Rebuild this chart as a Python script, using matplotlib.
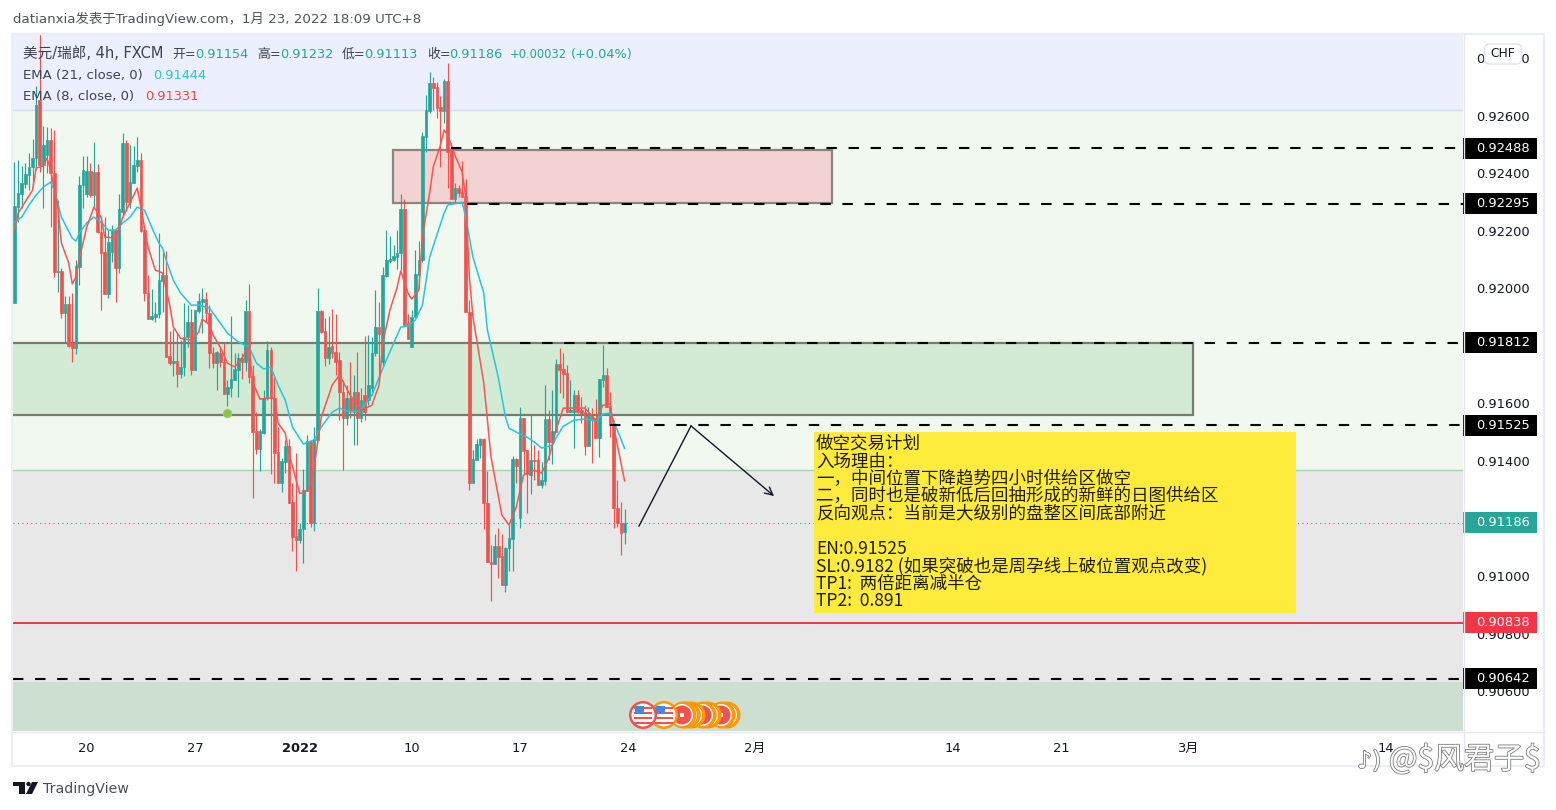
import matplotlib
matplotlib.use("Agg")
import matplotlib.pyplot as plt
import matplotlib.patheffects as pe
from matplotlib.patches import Rectangle, Circle, Polygon, FancyBboxPatch
from matplotlib.transforms import Affine2D, blended_transform_factory

plt.rcParams['font.family'] = ['DejaVu Sans', 'Noto Sans CJK SC']

opens = [0.91950, 0.92283, 0.92328, 0.92363, 0.92395, 0.92423, 0.92453, 0.92655, 0.92430, 0.92464,
         0.92516, 0.92402, 0.92057, 0.92061, 0.91915, 0.91946, 0.91810, 0.91792, 0.92075, 0.92360,
         0.92328, 0.92408, 0.92325, 0.92405, 0.92196, 0.92126, 0.91980, 0.92126, 0.92203, 0.92071,
         0.92266, 0.92506, 0.92300, 0.92367, 0.92426, 0.92447, 0.92203, 0.91984, 0.91893, 0.91900,
         0.91911, 0.92026, 0.92047, 0.91765, 0.91740, 0.91747, 0.91702, 0.91726, 0.91831, 0.91883,
         0.91716, 0.91921, 0.91953, 0.91963, 0.91914, 0.91776, 0.91740, 0.91776, 0.91744, 0.91633,
         0.91654, 0.91681, 0.91716, 0.91758, 0.91744, 0.91921, 0.91695, 0.91504, 0.91441, 0.91497,
         0.91619, 0.91786, 0.91619, 0.91431, 0.91323, 0.91396, 0.91452, 0.91257, 0.91139, 0.91125,
         0.91163, 0.91296, 0.91469, 0.91184, 0.91473, 0.91921, 0.91852, 0.91758, 0.91799, 0.91779,
         0.91751, 0.91640, 0.91549, 0.91619, 0.91570, 0.91640, 0.91549, 0.91629, 0.91612, 0.91654,
         0.91775, 0.91866, 0.91744, 0.92043, 0.92095, 0.92099, 0.92109, 0.92123, 0.92276, 0.91880,
         0.91796, 0.91900, 0.92047, 0.92099, 0.92527, 0.92617, 0.92715, 0.92701, 0.92631, 0.92617,
         0.92722, 0.92485, 0.92311, 0.92349, 0.92335, 0.92321, 0.91918, 0.91323, 0.91403, 0.91455,
         0.91476, 0.91254, 0.91048, 0.91041, 0.91104, 0.91069, 0.90969, 0.91097, 0.91128, 0.91407,
         0.91201, 0.91549, 0.91438, 0.91351, 0.91403, 0.91403, 0.91316, 0.91330, 0.91546, 0.91466,
         0.91500, 0.91737, 0.91719, 0.91706, 0.91570, 0.91570, 0.91629, 0.91577, 0.91570, 0.91452,
         0.91560, 0.91549, 0.91480, 0.91681, 0.91699, 0.91591, 0.91525, 0.91236, 0.91184, 0.91154]
highs = [0.92440, 0.92447, 0.92426, 0.92437, 0.92471, 0.92520, 0.92704, 0.92885, 0.92565, 0.92562,
         0.92558, 0.92551, 0.92307, 0.92071, 0.91973, 0.91973, 0.91984, 0.92099, 0.92391, 0.92460,
         0.92460, 0.92437, 0.92509, 0.92433, 0.92238, 0.92248, 0.92203, 0.92220, 0.92210, 0.92328,
         0.92541, 0.92516, 0.92499, 0.92495, 0.92527, 0.92471, 0.92220, 0.92047, 0.91998, 0.91953,
         0.92193, 0.92133, 0.92130, 0.91852, 0.91859, 0.91845, 0.91820, 0.91950, 0.91942, 0.91928,
         0.91925, 0.91984, 0.92001, 0.91987, 0.91942, 0.91796, 0.91782, 0.91796, 0.91810, 0.91681,
         0.91904, 0.91775, 0.91775, 0.91775, 0.91960, 0.92015, 0.91733, 0.91570, 0.91511, 0.91647,
         0.91817, 0.91796, 0.91692, 0.91518, 0.91410, 0.91473, 0.91476, 0.91323, 0.91427, 0.91184,
         0.91372, 0.91490, 0.91473, 0.91518, 0.92001, 0.91925, 0.91897, 0.91904, 0.91928, 0.91911,
         0.91779, 0.91681, 0.91664, 0.91744, 0.91699, 0.91779, 0.91654, 0.91834, 0.91838, 0.91831,
         0.91994, 0.91953, 0.92075, 0.92203, 0.92182, 0.92151, 0.92203, 0.92328, 0.92311, 0.91911,
         0.91925, 0.92133, 0.92165, 0.92544, 0.92673, 0.92753, 0.92735, 0.92718, 0.92669, 0.92728,
         0.92784, 0.92506, 0.92367, 0.92360, 0.92443, 0.92381, 0.91960, 0.91438, 0.91476, 0.91480,
         0.91480, 0.91365, 0.91108, 0.91146, 0.91167, 0.91146, 0.91101, 0.91177, 0.91417, 0.91410,
         0.91587, 0.91549, 0.91438, 0.91563, 0.91455, 0.91438, 0.91396, 0.91664, 0.91577, 0.91647,
         0.91754, 0.91793, 0.91775, 0.91733, 0.91681, 0.91647, 0.91647, 0.91622, 0.91594, 0.91587,
         0.91584, 0.91615, 0.91685, 0.91803, 0.91723, 0.91640, 0.91542, 0.91334, 0.91257, 0.91232]
lows = [0.91950, 0.92231, 0.92279, 0.92349, 0.92342, 0.92353, 0.92412, 0.92405, 0.92279, 0.92402,
        0.92214, 0.92040, 0.91987, 0.91897, 0.91810, 0.91796, 0.91744, 0.91772, 0.92012, 0.92279,
        0.92318, 0.92318, 0.92283, 0.92193, 0.91925, 0.91980, 0.91966, 0.92092, 0.91953, 0.92054,
        0.92248, 0.92269, 0.92279, 0.92367, 0.92405, 0.92196, 0.91956, 0.91893, 0.91890, 0.91883,
        0.91897, 0.91918, 0.91761, 0.91733, 0.91695, 0.91657, 0.91688, 0.91695, 0.91796, 0.91699,
        0.91716, 0.91914, 0.91845, 0.91883, 0.91723, 0.91723, 0.91647, 0.91726, 0.91633, 0.91591,
        0.91622, 0.91681, 0.91622, 0.91685, 0.91713, 0.91671, 0.91271, 0.91424, 0.91365, 0.91494,
        0.91612, 0.91354, 0.91323, 0.91323, 0.91292, 0.91358, 0.91254, 0.91087, 0.91017, 0.91115,
        0.91045, 0.91296, 0.91170, 0.91156, 0.91469, 0.91845, 0.91730, 0.91737, 0.91758, 0.91699,
        0.91542, 0.91368, 0.91525, 0.91549, 0.91455, 0.91455, 0.91535, 0.91542, 0.91594, 0.91629,
        0.91765, 0.91681, 0.91733, 0.92040, 0.92088, 0.92095, 0.92068, 0.92064, 0.91873, 0.91824,
        0.91796, 0.91900, 0.92002, 0.92092, 0.92474, 0.92610, 0.92620, 0.92593, 0.92423, 0.92575,
        0.92349, 0.92311, 0.92297, 0.92318, 0.92318, 0.91918, 0.91299, 0.91323, 0.91403, 0.91410,
        0.91163, 0.91048, 0.90913, 0.91041, 0.90993, 0.90969, 0.90944, 0.91017, 0.91017, 0.91323,
        0.91167, 0.91351, 0.91219, 0.91285, 0.91334, 0.91316, 0.91306, 0.91316, 0.91403, 0.91389,
        0.91500, 0.91636, 0.91619, 0.91570, 0.91570, 0.91445, 0.91566, 0.91532, 0.91421, 0.91452,
        0.91393, 0.91480, 0.91414, 0.91657, 0.91587, 0.91483, 0.91167, 0.91170, 0.91073, 0.91113]
closes = [0.92286, 0.92332, 0.92367, 0.92398, 0.92423, 0.92453, 0.92638, 0.92430, 0.92499, 0.92516,
          0.92402, 0.92057, 0.92061, 0.91915, 0.91946, 0.91799, 0.91792, 0.92078, 0.92360, 0.92412,
          0.92408, 0.92325, 0.92405, 0.92196, 0.92123, 0.91980, 0.92161, 0.92203, 0.92071, 0.92276,
          0.92506, 0.92300, 0.92370, 0.92430, 0.92447, 0.92200, 0.91984, 0.91893, 0.91904, 0.91911,
          0.92029, 0.92047, 0.91761, 0.91740, 0.91747, 0.91702, 0.91726, 0.91831, 0.91883, 0.91716,
          0.91925, 0.91956, 0.91963, 0.91914, 0.91776, 0.91740, 0.91779, 0.91744, 0.91633, 0.91657,
          0.91685, 0.91719, 0.91758, 0.91744, 0.91921, 0.91692, 0.91500, 0.91441, 0.91504, 0.91619,
          0.91786, 0.91619, 0.91427, 0.91323, 0.91400, 0.91452, 0.91254, 0.91135, 0.91125, 0.91163,
          0.91299, 0.91469, 0.91184, 0.91476, 0.91921, 0.91848, 0.91758, 0.91796, 0.91775, 0.91744,
          0.91640, 0.91549, 0.91619, 0.91577, 0.91640, 0.91549, 0.91612, 0.91570, 0.91664, 0.91775,
          0.91866, 0.91841, 0.92047, 0.92099, 0.92102, 0.92113, 0.92123, 0.92276, 0.91873, 0.91824,
          0.91900, 0.92050, 0.92099, 0.92530, 0.92620, 0.92715, 0.92697, 0.92628, 0.92617, 0.92722,
          0.92474, 0.92311, 0.92349, 0.92332, 0.92318, 0.91918, 0.91323, 0.91407, 0.91459, 0.91476,
          0.91254, 0.91048, 0.91041, 0.91104, 0.91066, 0.90969, 0.91097, 0.91132, 0.91407, 0.91382,
          0.91549, 0.91434, 0.91354, 0.91403, 0.91400, 0.91316, 0.91334, 0.91546, 0.91466, 0.91504,
          0.91737, 0.91716, 0.91702, 0.91570, 0.91577, 0.91629, 0.91570, 0.91566, 0.91452, 0.91566,
          0.91542, 0.91480, 0.91685, 0.91699, 0.91587, 0.91525, 0.91236, 0.91184, 0.91149, 0.91186]

ema8_bars = [0, 1, 5, 6, 8, 9, 10, 12, 13, 15, 16, 17, 18, 20, 22, 24, 25, 28, 30, 31, 34, 35, 36, 37,
             39, 41, 43, 44, 46, 49, 51, 52, 54, 55, 57, 59, 61, 63, 65, 66, 68, 70, 72, 73, 75, 76,
             79, 80, 82, 83, 85, 88, 90, 93, 96, 99, 101, 102, 104, 106, 107, 109, 110, 112, 113,
             115, 116, 118, 119, 120, 122, 124, 125, 126, 127, 130, 132, 135, 137, 139, 141, 142,
             144, 146, 148, 150, 152, 155, 158, 161, 163, 165, 166, 169]
ema8_vals = [0.92203, 0.92262, 0.92342, 0.92419, 0.92426, 0.92454, 0.92412, 0.92283, 0.92158, 0.92089,
             0.92016, 0.92040, 0.92106, 0.92213, 0.92283, 0.92248, 0.92179, 0.92175, 0.92248, 0.92273,
             0.92349, 0.92283, 0.92213, 0.92144, 0.92064, 0.92054, 0.91942, 0.91866, 0.91827, 0.91820,
             0.91848, 0.91894, 0.91873, 0.91838, 0.91796, 0.91740, 0.91727, 0.91758, 0.91796, 0.91674,
             0.91615, 0.91619, 0.91619, 0.91532, 0.91497, 0.91427, 0.91288, 0.91288, 0.91309, 0.91379,
             0.91553, 0.91664, 0.91699, 0.91629, 0.91577, 0.91594, 0.91664, 0.91810, 0.91925, 0.92005,
             0.92061, 0.91984, 0.91963, 0.91994, 0.92179, 0.92332, 0.92423, 0.92499, 0.92551, 0.92533,
             0.92464, 0.92405, 0.92318, 0.92040, 0.91900, 0.91671, 0.91414, 0.91212, 0.91177, 0.91240,
             0.91351, 0.91358, 0.91368, 0.91358, 0.91410, 0.91507, 0.91584, 0.91584, 0.91584, 0.91542,
             0.91594, 0.91598, 0.91518, 0.91331]

ema21_bars = [0, 2, 4, 6, 8, 10, 11, 13, 16, 17, 18, 20, 22, 24, 26, 28, 30, 32, 34, 36, 38, 40, 41, 42,
              44, 46, 49, 51, 54, 56, 59, 62, 65, 67, 69, 71, 73, 75, 77, 80, 83, 85, 88, 90, 93, 96,
              99, 103, 107, 109, 111, 113, 115, 119, 120, 124, 125, 127, 130, 131, 134, 136, 137, 140,
              142, 144, 146, 149, 150, 152, 155, 158, 161, 163, 165, 167, 169]
ema21_vals = [0.92231, 0.92248, 0.92290, 0.92325, 0.92353, 0.92370, 0.92342, 0.92248, 0.92175, 0.92165,
              0.92193, 0.92228, 0.92248, 0.92231, 0.92203, 0.92203, 0.92228, 0.92248, 0.92283, 0.92273,
              0.92213, 0.92158, 0.92141, 0.92099, 0.92029, 0.91984, 0.91942, 0.91942, 0.91932, 0.91897,
              0.91845, 0.91814, 0.91796, 0.91741, 0.91720, 0.91727, 0.91664, 0.91612, 0.91518, 0.91459,
              0.91473, 0.91518, 0.91570, 0.91584, 0.91570, 0.91577, 0.91629, 0.91751, 0.91866, 0.91869,
              0.91890, 0.91942, 0.92109, 0.92262, 0.92290, 0.92300, 0.92248, 0.92109, 0.91984, 0.91855,
              0.91692, 0.91553, 0.91514, 0.91494, 0.91483, 0.91466, 0.91445, 0.91455, 0.91480, 0.91521,
              0.91542, 0.91546, 0.91539, 0.91563, 0.91567, 0.91507, 0.91444]

# horizontal levels and where each dashed line starts (bar number)
level_prices = [0.92488, 0.92295, 0.91812, 0.91525, 0.90642]
level_starts = [121, 125.4, 140, 165, -0.4]
last_price = 0.91186
red_level = 0.90838

# 0.918 and 0.912 sit fully behind the price badges in the chart, so they are left out
price_ticks = [0.906, 0.908, 0.910, 0.914, 0.916, 0.920, 0.922, 0.924, 0.926, 0.928]
time_bars = [20, 50, 79, 110, 140, 170, 205, 260, 290, 325, 380]
time_labels = ["20", "27", "2022", "10", "17", "24", "2月", "14", "21", "3月", "14"]

# zones: lower price, upper price
zone_prices = [(0.92621, 0.92882), (0.91369, 0.92621), (0.90632, 0.91369), (0.90460, 0.90632)]
zone_colors = ["#ebeffe", "#f1f8f0", "#e8e8e8", "#cddfd0"]

plan_lines = ["做空交易计划", "入场理由：", "一，中间位置下降趋势四小时供给区做空",
              "二，同时也是破新低后回抽形成的新鲜的日图供给区", "反向观点：当前是大级别的盘整区间底部附近", "",
              "EN:0.91525", "SL:0.9182 (如果突破也是周孕线上破位置观点改变)", "TP1:  两倍距离减半仓", "TP2:  0.891"]

RED = "#ef5350"
TEAL = "#26a69a"
INK = "#131722"
GREY = "#3f424d"

fig = plt.figure(figsize=(15.56, 8.10), dpi=100, facecolor="white")
ax = fig.add_axes([13 / 1556, 1 - 731 / 810, 1450 / 1556, 696 / 810])
ax.set_xlim(-0.415, 401.25)
ax.set_ylim(0.904609, 0.928817)
for s in ax.spines.values():
    s.set_visible(False)

# figure pixels, y going down like in the screenshot
px = Affine2D().scale(1, -1).translate(0, 810)
axis_y = blended_transform_factory(ax.transAxes, ax.transData)

for (lo, hi), c in zip(zone_prices, zone_colors):
    ax.axhspan(lo, hi, color=c, lw=0, zorder=0)
ax.axhline(0.92621, color="#cfdcf3", lw=1, zorder=0.5)
ax.axhline(0.91369, color="#a5d6a7", lw=1, zorder=0.5)

ax.add_patch(Rectangle((-2, 0.91560), 328.4, 0.00252, fc="#d3ead5", ec="#787b73", lw=1.6, zorder=1))
ax.add_patch(Rectangle((104.8, 0.92297), 121.7, 0.00184, fc="#f2d3d2", ec="#8a8583", lw=1.6, zorder=1))

ax.axhline(last_price, color=TEAL, lw=0.8, ls=(0, (1, 3)), zorder=1.2)
ax.axhline(red_level, color="#f23645", lw=1.4, zorder=1.2)

for i in range(len(closes)):
    c = TEAL if closes[i] >= opens[i] else RED
    ax.vlines(i, lows[i], highs[i], color=c, lw=0.85, zorder=2)
    ax.bar(i, abs(closes[i] - opens[i]), bottom=min(opens[i], closes[i]), width=0.72, color=c, ec=c, lw=0.5, zorder=2)

ax.plot(ema21_bars, ema21_vals, color="#26c6da", lw=1.1, zorder=3)
ax.plot(ema8_bars, ema8_vals, color="#ff5252", lw=1.1, zorder=3)
ax.plot([59], [0.91567], "o", ms=6.2, mfc="#8bc34a", mec="#a5d66f", mew=0.6, zorder=3)

for p, st in zip(level_prices, level_starts):
    ax.plot([st, 401.25], [p, p], color="black", lw=1.5, ls=(0, (5, 5.6)), zorder=4)

# the hand drawn arrow of the trade idea
ax.plot([173, 187.4], [0.91174, 0.91522], color=INK, lw=1, zorder=4)
ax.annotate("", xy=(210.4, 0.91278), xytext=(187.4, 0.91522),
            arrowprops=dict(arrowstyle="->", color=INK, lw=1, mutation_scale=14, shrinkA=0, shrinkB=0), zorder=4)

# price axis
ax.yaxis.tick_right()
ax.set_yticks(price_ticks)
ax.set_yticklabels(["%.5f" % t for t in price_ticks], fontsize=9.4, color=INK)
ax.set_xticks(time_bars)
ax.set_xticklabels(time_labels, fontsize=9.4, color=INK)
ax.tick_params(axis="both", length=0)
ax.tick_params(axis="y", pad=9.4)
ax.tick_params(axis="x", pad=8)
ax.get_xticklabels()[2].set_fontweight("bold")

# price badges
badges = [(p, "black") for p in level_prices] + [(last_price, TEAL), (red_level, "#f23645")]
for p, c in badges:
    ax.add_patch(Rectangle((1.0, p - 0.000365), 74 / 1450, 0.00073, fc=c, ec="none", transform=axis_y,
                           clip_on=False, zorder=6))
    ax.text(1 + 13 / 1450, p, "%.5f" % p, color="white", fontsize=9.4, va="center", ha="left",
            transform=axis_y, clip_on=False, zorder=7)

# frame of the widget
def frame_line(x0, y0, x1, y1, c="#e6e8ee", w=1.0):
    fig.add_artist(plt.Line2D([x0, x1], [y0, y1], color=c, lw=w, transform=px))

frame_line(12, 34, 1544, 34, "#eceef4", 1.6)
frame_line(12, 34, 12, 766, "#eceef4", 1.6)
frame_line(1544, 34, 1544, 766, "#eceef4", 1.6)
frame_line(12, 766, 1544, 766, "#eceef4", 1.6)
frame_line(13, 731.5, 1544, 731.5)
frame_line(1463.5, 35, 1463.5, 766)

# yellow note
fig.add_artist(Rectangle((813.5, 432), 482.5, 181, fc="#ffeb3b", ec="none", transform=px, zorder=1.1))
for n, line in enumerate(plan_lines):
    fig.text(816, 444 + n * 17.45, line, transform=px, fontsize=12.6, color="#1e1e05", va="center",
             family=["Noto Sans CJK SC", "DejaVu Sans"])

# legend at the top left
fig.text(13, 18.5, "datianxia发表于TradingView.com，1月 23, 2022 18:09 UTC+8", transform=px, fontsize=9.6,
         color="#50535e", va="center")
head = [(172, "开=", GREY), (195, "0.91154", TEAL), (257, "高=", GREY), (280, "0.91232", TEAL),
        (342, "低=", GREY), (364, "0.91113", TEAL), (427, "收=", GREY), (449, "0.91186", TEAL),
        (571, "(+0.04%)", TEAL)]
fig.text(23, 58.2, "美元/瑞郎, 4h, FXCM", transform=px, fontsize=10.5, color=GREY, va="baseline")
for x, t, c in head:
    fig.text(x, 58.2, t, transform=px, fontsize=9.3, color=c, va="baseline")
fig.text(510, 58.2, "+0.00032", transform=px, fontsize=8.3, color=TEAL, va="baseline")
fig.text(23, 79, "EMA (21, close, 0)", transform=px, fontsize=9.5, color=GREY, va="baseline")
fig.text(153, 79, "0.91444", transform=px, fontsize=9.3, color="#26c6da", va="baseline")
fig.text(23, 100, "EMA (8, close, 0)", transform=px, fontsize=9.5, color=GREY, va="baseline")
fig.text(145, 100, "0.91331", transform=px, fontsize=9.3, color="#ff4040", va="baseline")

# currency tag
fig.add_artist(FancyBboxPatch((1484.5, 44), 37, 20, boxstyle="round,pad=0,rounding_size=5", fc="white",
                              ec="#e0e3eb", lw=1, transform=px, zorder=5))
fig.text(1503, 53.5, "CHF", transform=px, fontsize=8.8, color=INK, va="center", ha="center", zorder=6)

# event icons, drawn right to left so the left one stays on top
for cx in [727, 722, 708, 703, 692, 687, 683]:
    fig.add_artist(Circle((cx, 715), 13.5, fc="#ff9800", ec="none", transform=px, zorder=5))
    fig.add_artist(Circle((cx - 1, 715), 11, fc="white", ec="none", transform=px, zorder=5))
    fig.add_artist(Circle((cx - 1, 715), 9.5, fc="#ef5350", ec="none", transform=px, zorder=5))
    fig.add_artist(Rectangle((cx - 3, 713), 4, 4, fc="white", ec="none", transform=px, zorder=5))
for cx, ring in [(664, "#ff9800"), (643, "#ef5350")]:
    fig.add_artist(Circle((cx, 715), 14, fc=ring, ec="none", transform=px, zorder=5))
    fig.add_artist(Circle((cx, 715), 11.5, fc="white", ec="none", transform=px, zorder=5))
    for yy in [707, 712, 717, 722]:
        fig.add_artist(Rectangle((cx - 9, yy), 18, 2.4, fc="#ef5350", ec="none", transform=px, zorder=5))
    fig.add_artist(Rectangle((cx - 8, 706), 9, 8, fc="#3c8de0", ec="none", transform=px, zorder=5))

# TradingView mark
fig.add_artist(Rectangle((13, 782), 12, 4, fc="#131722", ec="none", transform=px))
fig.add_artist(Rectangle((19, 782), 6, 12, fc="#131722", ec="none", transform=px))
fig.add_artist(Circle((28.5, 784), 2.2, fc="#131722", ec="none", transform=px))
fig.add_artist(Polygon([(32, 782), (38, 782), (32, 794), (26, 794)], fc="#131722", ec="none", transform=px))
fig.text(43, 788.5, "TradingView", transform=px, fontsize=10.2, color="#4a4f5a", va="center")

# watermark of the repost
halo = [pe.withStroke(linewidth=1.2, foreground="#7c7c7c")]
fig.text(1389, 760, "@$风君子$", transform=px, fontsize=21.6, color="white", va="center", zorder=8,
         path_effects=halo, family=["Noto Sans CJK SC", "DejaVu Sans"], parse_math=False)
fig.text(1357, 761, "♪)", transform=px, fontsize=17, color="white", va="center", zorder=8, path_effects=halo)

fig.savefig("out.png", dpi=100)
